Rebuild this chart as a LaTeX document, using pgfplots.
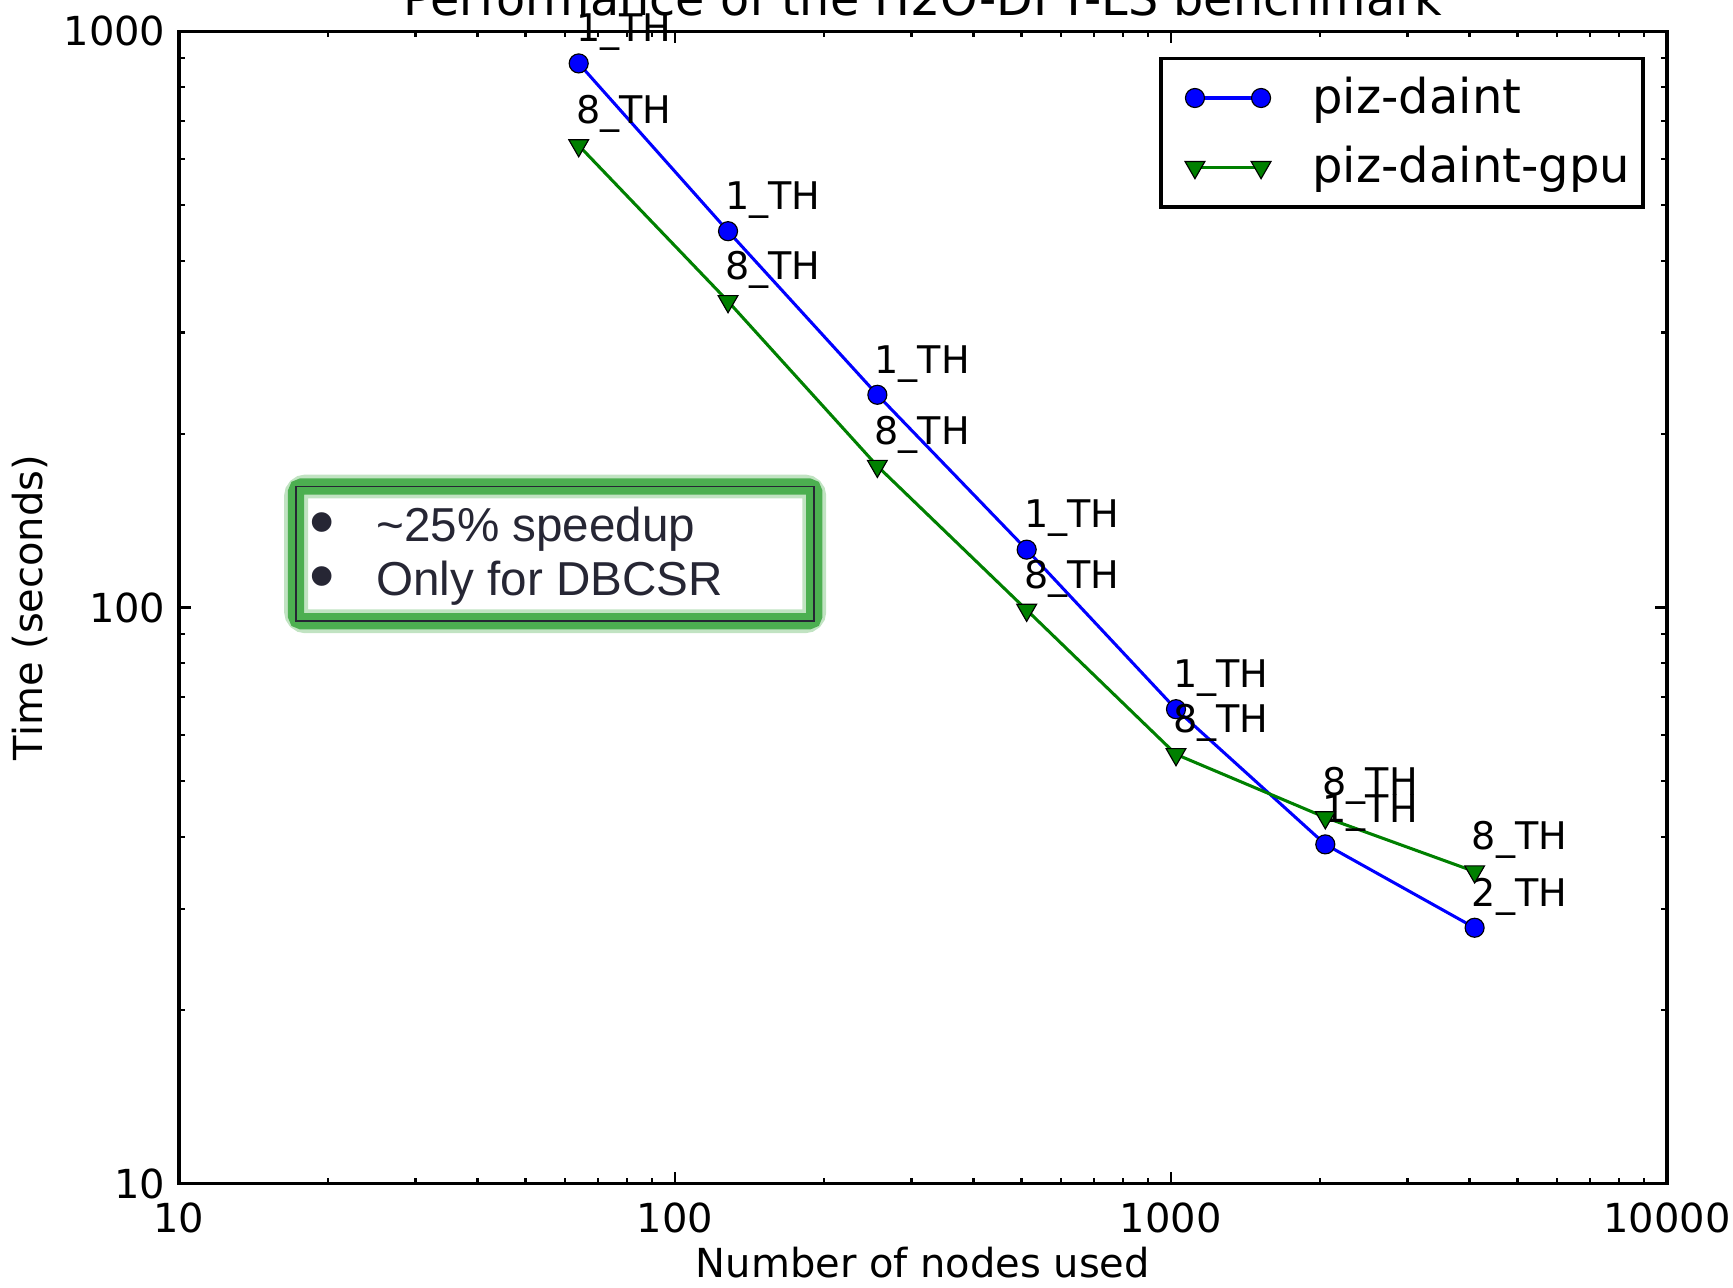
\documentclass[border=0pt]{standalone}
\usepackage{pgfplots}
\pgfplotsset{compat=1.18}
\usepackage{pgfplotstable}
\usepackage{fontspec}
\setmainfont{DejaVu Sans}
\newfontfamily\arialfont{Liberation Sans}
\usetikzlibrary{calc}
\definecolor{mplblue}{RGB}{0,0,255}
\definecolor{mplgreen}{RGB}{0,128,0}
\definecolor{glowgreen}{RGB}{76,175,80}
\definecolor{boxtext}{RGB}{38,38,52}

\pgfplotstableread{
x y label
64 880 1\_TH
128 450 1\_TH
256 234 1\_TH
512 126 1\_TH
1024 66.6 1\_TH
2048 38.8 1\_TH
4096 27.8 2\_TH
}\daint
\pgfplotstableread{
x y label
64 634 8\_TH
128 340 8\_TH
256 176 8\_TH
512 99 8\_TH
1024 55.6 8\_TH
2048 43.2 8\_TH
4096 34.8 8\_TH
}\daintgpu

\begin{document}
\begin{tikzpicture}
\begin{axis}[
  name=ax,
  scale only axis,
  width=13.73cm, height=10.63cm,
  xmode=log, ymode=log,
  xmin=10, xmax=10000, ymin=10, ymax=1000,
  xtick={10,100,1000,10000}, xticklabels={10,100,1000,10000},
  ytick={10,100,1000}, yticklabels={10,100,1000},
  tick align=inside,
  major tick length=0.11cm, minor tick length=0.055cm,
  every tick/.style={black, line width=0.6pt},
  axis line style={line width=0.9pt},
  tick label style={font=\fontsize{10.5}{12}\selectfont},
  xticklabel style={yshift=-0.05cm},
  xlabel={Number of nodes used},
  ylabel={Time (seconds)},
  label style={font=\fontsize{10.5}{12}\selectfont},
  xlabel style={at={(axis description cs:0.5,-0.0687)}, anchor=center},
  ylabel style={at={(axis description cs:-0.0998,0.5)}, anchor=center, rotate=0},
  clip=false,
  legend style={at={(rel axis cs:0.985,0.978)}, anchor=north east, draw=black, line width=0.9pt,
    font=\fontsize{12.6}{15}\selectfont, inner xsep=0.07cm, inner ysep=0.12cm, row sep=0.15cm,
    nodes={inner sep=0.05cm}},
  legend cell align=left,
  legend image code/.code={\path (-0.23cm,0cm) (1.02cm,0cm); \draw[#1, line width=0.8pt] plot coordinates {(0cm,0cm) (0.61cm,0cm)};},
  every node near coord/.append style={anchor=base west, inner sep=0pt, xshift=-0.03cm, yshift=0.2cm, font=\fontsize{10}{12}\selectfont, text=black},
]
\addplot[mplblue, line width=0.8pt, mark=*, mark size=2.5pt, mark options={fill=mplblue, draw=black, line width=0.3pt},
  nodes near coords, point meta=explicit symbolic] table[x=x, y=y, meta=label] {\daint};
\addlegendentry{piz-daint}
\addplot[mplgreen, line width=0.8pt, mark=triangle*, mark size=3pt, mark options={rotate=180, fill=mplgreen, draw=black, line width=0.3pt},
  nodes near coords, point meta=explicit symbolic] table[x=x, y=y, meta=label] {\daintgpu};
\addlegendentry{piz-daint-gpu}

% title (cut off at the top, as in the reference)
\node[anchor=base, inner sep=0pt, yshift=0.147cm, font=\fontsize{12.5}{14}\selectfont] at (rel axis cs:0.5,1) {Performance of the H2O-DFT-LS benchmark};

% annotation box with green glow
\draw[line width=0.22cm, glowgreen, opacity=0.35, rounded corners=0.09cm] (rel axis cs:0.0788,0.488) rectangle (rel axis cs:0.427,0.605);
\draw[line width=0.15cm, glowgreen, rounded corners=0.05cm] (rel axis cs:0.0788,0.488) rectangle (rel axis cs:0.427,0.605);
\draw[line width=0.5pt, boxtext] (rel axis cs:0.0788,0.488) rectangle (rel axis cs:0.427,0.605);
\node[anchor=center, text=boxtext, font=\arialfont\fontsize{19}{20}\selectfont] at (rel axis cs:0.0966,0.568) {\textbullet};
\node[anchor=center, text=boxtext, font=\arialfont\fontsize{19}{20}\selectfont] at (rel axis cs:0.0966,0.521) {\textbullet};
\node[anchor=west, inner sep=0pt, text=boxtext, font=\arialfont\fontsize{12.5}{14}\selectfont] at (rel axis cs:0.1322,0.568) {\textasciitilde 25\% speedup};
\node[anchor=west, inner sep=0pt, text=boxtext, font=\arialfont\fontsize{12.5}{14}\selectfont] at (rel axis cs:0.1322,0.521) {Only for DBCSR};
\end{axis}
\pgfresetboundingbox
\useasboundingbox ($(ax.south west)+(-1.65cm,-0.96cm)$) rectangle ($(ax.north east)+(0.61cm,0.29cm)$);
\end{tikzpicture}
\end{document}
